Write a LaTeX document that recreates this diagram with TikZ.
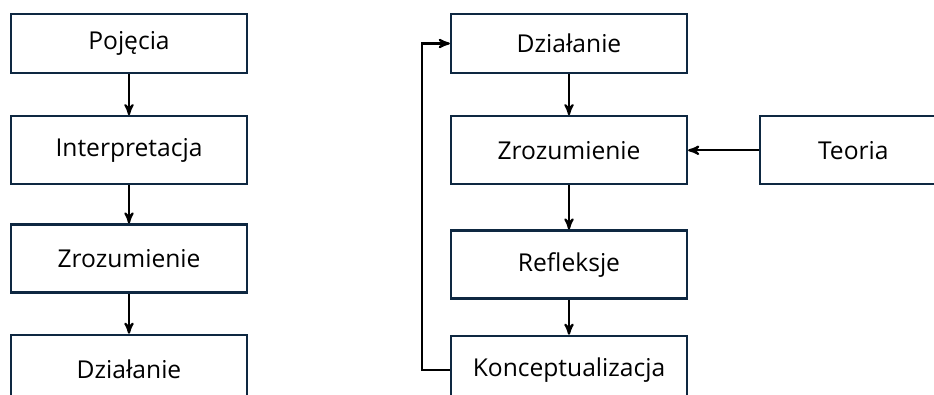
\documentclass[tikz,border=0pt]{standalone}
\usepackage{fontspec}
\setmainfont{Open Sans}
\usepackage{tikz}
\usetikzlibrary{arrows, positioning}
\definecolor{colorBorder}{HTML}{0E2841}
\tikzset{box/.style={draw=colorBorder, line width=1.3pt, minimum width=4.72cm, minimum height=1.36cm, inner sep=0pt, font=\fontsize{14}{16}\selectfont}}

\begin{document}
\begin{tikzpicture}[>=stealth', line width=1.2pt, node distance=0.8cm]
\useasboundingbox (0,0) rectangle (18.68,-7.88);
% left column
\node[box, minimum height=1.18cm] (pojecia) at (2.58,-0.87) {Pojęcia};
\node[box, below=0.82cm of pojecia] (interp) {Interpretacja};
\node[box, below=0.76cm of interp] (zroz1) {Zrozumienie};
\node[box, below=0.8cm of zroz1] (dzial1) {Działanie};
% right column
\node[box, minimum height=1.18cm] (dzial2) at (11.38,-0.87) {Działanie};
\node[box, below=0.82cm of dzial2] (zroz2) {Zrozumienie};
\node[box, below=0.88cm of zroz2] (refl) {Refleksje};
\node[box, below=0.7cm of refl] (konc) {Konceptualizacja};
\node[box, minimum width=3.72cm, right=1.42cm of zroz2] (teoria) {Teoria};
\draw [->] (pojecia) -- (interp);
\draw [->] (interp) -- (zroz1);
\draw [->] (zroz1) -- (dzial1);
\draw [->] (dzial2) -- (zroz2);
\draw [->] (zroz2) -- (refl);
\draw [->] (refl) -- (konc);
\draw [->] (teoria) -- (zroz2);
\draw [->] (konc.west) -- ++(-0.56,0) |- (dzial2.west);
\end{tikzpicture}
\end{document}
